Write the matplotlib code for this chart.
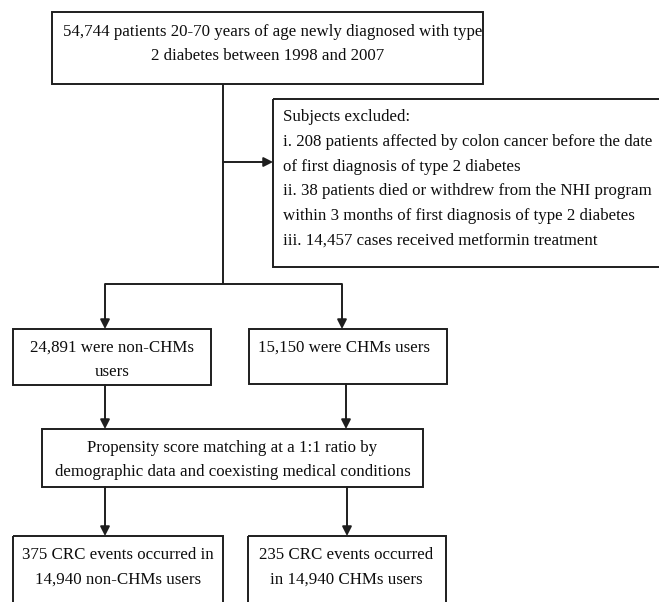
import matplotlib
matplotlib.use("Agg")
import matplotlib.pyplot as plt
from matplotlib.patches import Rectangle

# ---- data (text content of the flow chart) ----
top_lines = ["54,744 patients 20-70 years of age newly diagnosed with type",
             "2 diabetes between 1998 and 2007"]
excl_lines = ["Subjects excluded:",
              "i. 208 patients affected by colon cancer before the date",
              "of first diagnosis of type 2 diabetes",
              "ii. 38 patients died or withdrew from the NHI program",
              "within 3 months of first diagnosis of type 2 diabetes",
              "iii. 14,457 cases received metformin treatment"]
nonchm_lines = ["24,891 were non-CHMs", "users"]
chm_lines = ["15,150 were CHMs users"]
psm_lines = ["Propensity score matching at a 1:1 ratio by",
             "demographic data and coexisting medical conditions"]
out_non_lines = ["375 CRC events occurred in", "14,940 non-CHMs users"]
out_chm_lines = ["235 CRC events occurred", "in 14,940 CHMs users"]

# ---- figure ----
W, H = 659, 602
fig = plt.figure(figsize=(W / 100, H / 100), dpi=100)
ax = fig.add_axes([0, 0, 1, 1])
ax.set_xlim(0, W)
ax.set_ylim(H, 0)
ax.axis("off")

LC = "#1e1e1e"
LW = 1.4
FONT = "Liberation Serif"
FS = 12.2


def box(x0, y0, x1, y1):
    ax.add_patch(Rectangle((x0, y0), x1 - x0, y1 - y0, fill=False,
                           edgecolor=LC, linewidth=LW, clip_on=True))


def lines_text(lines, xs, y0, dy=24.5, ha="center"):
    if not isinstance(xs, (list, tuple)):
        xs = [xs] * len(lines)
    for i, s in enumerate(lines):
        ax.text(xs[i], y0 + i * dy, s, ha=ha, va="center", fontsize=FS,
                family=FONT, color="#0d0d0d")


def arrow(x0, y0, x1, y1):
    ax.annotate("", xy=(x1, y1), xytext=(x0, y0),
                arrowprops=dict(arrowstyle="-|>,head_length=0.55,head_width=0.28",
                                color=LC, lw=LW, shrinkA=0, shrinkB=0))


def line(xs, ys):
    ax.plot(xs, ys, color=LC, lw=LW, solid_capstyle="butt")


# top box
box(52, 12, 483, 84)
lines_text(top_lines, [272.5, 268], 32)

# exclusion box (extends past right edge)
box(273, 99, 700, 267)
lines_text(excl_lines, 283, 117, dy=24.8, ha="left")

# trunk
line([223, 223], [84, 284])
arrow(223, 162, 273, 162)
line([105, 342], [284, 284])
arrow(105, 284, 105, 329)
arrow(342, 284, 342, 329)

# group boxes
box(13, 329, 211, 385)
lines_text(nonchm_lines, 112, 348)
box(249, 329, 447, 384)
lines_text(chm_lines, 344, 348)

arrow(105, 385, 105, 429)
arrow(346, 384, 346, 429)

# propensity box
box(42, 429, 423, 487)
lines_text(psm_lines, 232.5, 448)

arrow(105, 487, 105, 536)
arrow(347, 487, 347, 536)

# outcome boxes (extend below bottom edge)
box(13, 536, 223, 640)
lines_text(out_non_lines, 118, 555)
box(248, 536, 446, 640)
lines_text(out_chm_lines, 346, 555)

fig.savefig("out.png", dpi=100, facecolor="white")
